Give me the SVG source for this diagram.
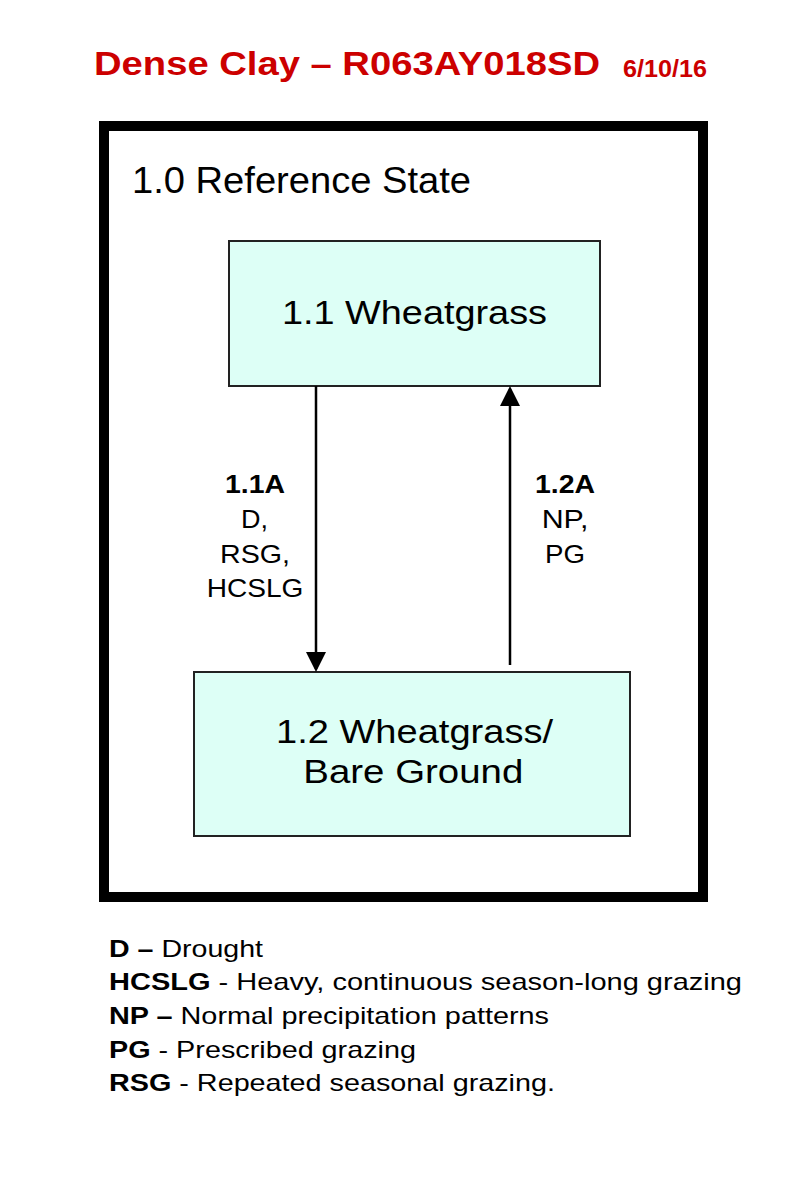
<svg xmlns="http://www.w3.org/2000/svg" width="800" height="1194" viewBox="0 0 800 1194">
  <style>
    text { font-family: "Liberation Sans", Arial, sans-serif; fill: #000; }
    .title { fill: #CC0000; font-weight: bold; }
    .state { fill: #DDFFF6; stroke: #222; stroke-width: 2; }
    .nodelabel { font-size: 34px; text-anchor: middle; }
    .tlabel { font-size: 26px; text-anchor: middle; }
    .b { font-weight: bold; }
    .legend { font-size: 24px; }
    .conn { stroke: #000; stroke-width: 2.5; fill: none; marker-end: url(#arrow); }
  </style>
  <defs>
    <marker id="arrow" viewBox="0 0 20 20" markerUnits="userSpaceOnUse" markerWidth="20" markerHeight="20" refX="17" refY="10" orient="auto">
      <path d="M0,0 L20,10 L0,20 Z" fill="#000"/>
    </marker>
  </defs>
  <rect width="800" height="1194" fill="#fff"/>

  <g id="title">
    <text class="title" x="94" y="75" font-size="34" textLength="506" lengthAdjust="spacingAndGlyphs">Dense Clay – R063AY018SD</text>
    <text class="title" x="623" y="76.5" font-size="23" textLength="84" lengthAdjust="spacingAndGlyphs">6/10/16</text>
  </g>

  <g id="state-1-0">
    <rect x="104" y="126" width="599" height="771" fill="none" stroke="#000" stroke-width="10"/>
    <text x="132" y="192.5" font-size="37" textLength="339" lengthAdjust="spacingAndGlyphs">1.0 Reference State</text>
  </g>

  <g id="phase-1-1">
    <rect class="state" x="229" y="241" width="371" height="145"/>
    <text class="nodelabel" x="414.5" y="324" textLength="265" lengthAdjust="spacingAndGlyphs">1.1 Wheatgrass</text>
  </g>

  <g id="phase-1-2">
    <rect class="state" x="194" y="672" width="436" height="164"/>
    <text class="nodelabel" x="414.5" y="742.5" textLength="277" lengthAdjust="spacingAndGlyphs">1.2 Wheatgrass/</text>
    <text class="nodelabel" x="413.3" y="782.5" textLength="220" lengthAdjust="spacingAndGlyphs">Bare Ground</text>
  </g>

  <g id="connectors">
    <line class="conn" x1="316" y1="386" x2="316" y2="669"/>
    <line class="conn" x1="510" y1="665" x2="510" y2="389"/>
  </g>

  <g id="transition-labels">
    <text class="tlabel b" x="255" y="493" textLength="60" lengthAdjust="spacingAndGlyphs">1.1A</text>
    <text class="tlabel" x="254.5" y="528" textLength="27" lengthAdjust="spacingAndGlyphs">D,</text>
    <text class="tlabel" x="255" y="563" textLength="70" lengthAdjust="spacingAndGlyphs">RSG,</text>
    <text class="tlabel" x="255" y="597" textLength="96.7" lengthAdjust="spacingAndGlyphs">HCSLG</text>
    <text class="tlabel b" x="565" y="493" textLength="60" lengthAdjust="spacingAndGlyphs">1.2A</text>
    <text class="tlabel" x="565" y="528" textLength="46.7" lengthAdjust="spacingAndGlyphs">NP,</text>
    <text class="tlabel" x="565" y="563" textLength="40" lengthAdjust="spacingAndGlyphs">PG</text>
  </g>

  <g id="legend" class="legend">
    <text class="legend" x="109" y="957" textLength="154" lengthAdjust="spacingAndGlyphs"><tspan class="b">D –</tspan> Drought</text>
    <text class="legend" x="109" y="990" textLength="633" lengthAdjust="spacingAndGlyphs"><tspan class="b">HCSLG</tspan> - Heavy, continuous season-long grazing</text>
    <text class="legend" x="109" y="1024" textLength="440" lengthAdjust="spacingAndGlyphs"><tspan class="b">NP –</tspan> Normal precipitation patterns</text>
    <text class="legend" x="109" y="1058" textLength="307" lengthAdjust="spacingAndGlyphs"><tspan class="b">PG</tspan> - Prescribed grazing</text>
    <text class="legend" x="109" y="1091" textLength="446" lengthAdjust="spacingAndGlyphs"><tspan class="b">RSG</tspan> - Repeated seasonal grazing.</text>
  </g>
</svg>
